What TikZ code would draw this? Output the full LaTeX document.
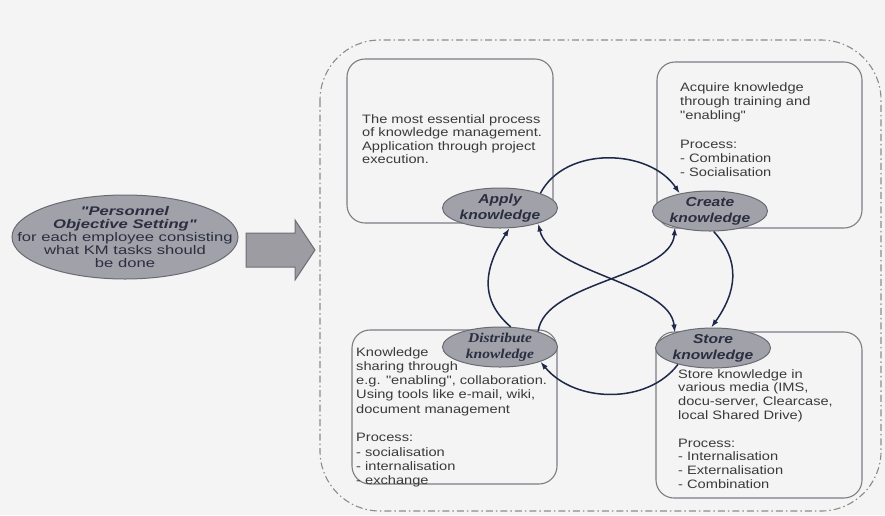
\documentclass[tikz,border=0pt]{standalone}
\usepackage{fontspec}
\newfontfamily\bx{Liberation Sans}[FakeStretch=1.2]
\newfontfamily\bxw{Liberation Sans}[FakeStretch=1.33]
\newfontfamily\bxs{Liberation Serif}[FakeStretch=1.15]
\usetikzlibrary{shapes.geometric,arrows.meta}
\definecolor{bg}{HTML}{F4F4F4}
\definecolor{boxline}{HTML}{7C7C84}
\definecolor{ellfill}{HTML}{A0A1A9}
\definecolor{ellline}{HTML}{6A6A74}
\definecolor{navy}{HTML}{1E2848}
\definecolor{txt}{HTML}{3A3A3A}
\definecolor{etxt}{HTML}{2A2E40}
\definecolor{outer}{HTML}{8C8C8C}
\definecolor{arrfill}{HTML}{9C9CA2}
\definecolor{arrline}{HTML}{6E6E76}
\tikzset{
  kbox/.style={draw=boxline, line width=1.1pt, rounded corners=18pt},
  kell/.style={ellipse, draw=ellline, fill=ellfill, line width=1pt, minimum width=115pt, minimum height=40pt, inner sep=0pt},
  klabel/.style={inner sep=0pt, align=center, text=etxt, font=\bx\fontsize{13}{16}\selectfont\bfseries\itshape},
  ktext/.style={anchor=north west, inner sep=0pt, align=left, text=txt, font=\bx\fontsize{12.2}{14.3}\selectfont},
  flow/.style={draw=navy, line width=1.5pt, -{Latex[length=8pt,width=5.5pt]}},
  flowboth/.style={draw=navy, line width=1.5pt, {Latex[length=8pt,width=5.5pt]}-{Latex[length=8pt,width=5.5pt]}},
}
\begin{document}
\begin{tikzpicture}[x=1pt,y=-1pt]
\useasboundingbox (0,0) rectangle (885,515);
\fill[bg] (0,0) rectangle (885,515);
% outer dash-dot frame
\draw[outer, line width=1.1pt, dash pattern=on 7pt off 3pt on 1.5pt off 3pt, rounded corners=60pt] (320,40) rectangle (881,511);
% boxes
\draw[kbox] (347,59) rectangle (553,223);
\draw[kbox] (657,62) rectangle (862,228);
\draw[kbox] (352,330) rectangle (557,484);
\draw[kbox] (656,332) rectangle (862,498);
% box texts
\node[ktext, font=\bx\fontsize{12.2}{13.5}\selectfont] (tltext) at (362,114) {The most essential process\\of knowledge management.\\Application through project\\execution.};
\node[ktext] (trtext) at (680,82) {Acquire knowledge\\through training and\\"enabling"\\[14.3pt]Process:\\- Combination\\- Socialisation};
\node[ktext] (bltext) at (356,347) {Knowledge\\sharing through\\e.g. "enabling", collaboration.\\Using tools like e-mail, wiki,\\document management\\[14.3pt]Process:\\- socialisation\\- internalisation\\- exchange};
\node[ktext, font=\bx\fontsize{12.2}{13.8}\selectfont] (brtext) at (678,369) {Store knowledge in\\various media (IMS,\\docu-server, Clearcase,\\local Shared Drive)\\[13.8pt]Process:\\- Internalisation\\- Externalisation\\- Combination};
% ellipses
\node[kell] (apply) at (500,208) {};
\node[kell] (create) at (710,211) {};
\node[kell] (distribute) at (500,347) {};
\node[kell] (store) at (713,348) {};
\node[klabel] (applyt) at (apply) {Apply\\knowledge};
\node[klabel] (createt) at (create) {Create\\knowledge};
\node[klabel, font=\bxs\fontsize{13.5}{16}\selectfont\bfseries\itshape] (distributet) at (distribute) {Distribute\\knowledge};
\node[klabel] (storet) at (store) {Store\\knowledge};
% cycle arrows
\draw[flow] (apply.20) .. controls +(25,-48) and +(-30,-45) .. (create.150);
\draw[flow] (create.-80) .. controls +(28,30) and +(25,-35) .. (store.95);
\draw[flow] (store.205) .. controls +(-30,40) and +(35,42) .. (distribute.-20);
\draw[flow] (distribute.62) .. controls +(-35,-30) and +(-22,35) .. (apply.-65);
\draw[flowboth] (apply.-22) .. controls +(12,50) and +(-5,-50) .. (store.158);
\draw[flow] (distribute.22) .. controls +(6,-50) and +(-4,50) .. (create.205);
% left ellipse
\node[ellipse, draw=ellline, fill=ellfill, line width=1pt, minimum width=226pt, minimum height=84pt, inner sep=0pt] (pos) at (125,237) {};
\node[inner sep=0pt, align=center, text=etxt, font=\bxw\fontsize{12.5}{13}\selectfont] (post) at (pos) {\textbf{\textit{"Personnel}}\\\textbf{\textit{Objective Setting"}}\\for each employee consisting\\what KM tasks should\\be done};
% big arrow
\draw[draw=arrline, fill=arrfill, line width=1pt] (246,233) -- (295,233) -- (295,220) -- (315,250) -- (295,280) -- (295,267) -- (246,267) -- cycle;
\end{tikzpicture}
\end{document}
